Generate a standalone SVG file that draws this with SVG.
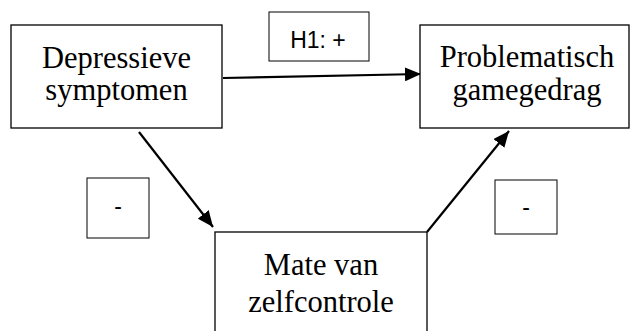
<svg xmlns="http://www.w3.org/2000/svg" width="630" height="331" viewBox="0 0 630 331">
<style>
.box{fill:#fff;stroke:#000;stroke-width:1.3}
.lab{fill:#fff;stroke:#000;stroke-width:1}
.t{font-family:"Liberation Serif","Times New Roman",serif;font-size:30.5px;fill:#000;text-anchor:middle}
.s{font-family:"Liberation Sans",Arial,sans-serif;font-size:23px;fill:#000;text-anchor:middle}
.c{stroke:#000;stroke-width:2.2;fill:none;marker-end:url(#ah)}
</style>
<defs>
<marker id="ah" markerUnits="userSpaceOnUse" markerWidth="16" markerHeight="14" viewBox="0 0 16 14" refX="16" refY="7" orient="auto">
<path d="M0,0 L16,7 L0,14 Z" fill="#000"/>
</marker>
</defs>
<rect width="630" height="331" fill="#fff"/>
<g id="connectors">
<line class="c" x1="223" y1="78" x2="421" y2="74"/>
<line class="c" x1="139" y1="132" x2="213" y2="227"/>
<line class="c" x1="427" y1="232" x2="509" y2="131"/>
</g>
<g id="depressieve">
<rect class="box" x="11" y="25" width="211" height="103"/>
<text class="t" x="116.5" y="68">Depressieve</text>
<text class="t" x="116.5" y="100">symptomen</text>
</g>
<g id="problematisch">
<rect class="box" x="420" y="25" width="209" height="103"/>
<text class="t" x="527" y="67">Problematisch</text>
<text class="t" x="527" y="100">gamegedrag</text>
</g>
<g id="zelfcontrole">
<rect class="box" x="215" y="232" width="212" height="110"/>
<text class="t" x="321" y="275">Mate van</text>
<text class="t" x="321" y="312">zelfcontrole</text>
</g>
<g id="label-h1">
<rect class="lab" x="269" y="12" width="100" height="49"/>
<text class="s" x="318" y="48">H1: +</text>
</g>
<g id="label-minus-left">
<rect class="lab" x="87" y="178" width="62" height="60"/>
<text class="s" x="118" y="214">-</text>
</g>
<g id="label-minus-right">
<rect class="lab" x="495" y="180" width="62" height="54"/>
<text class="s" x="526" y="215">-</text>
</g>
</svg>
